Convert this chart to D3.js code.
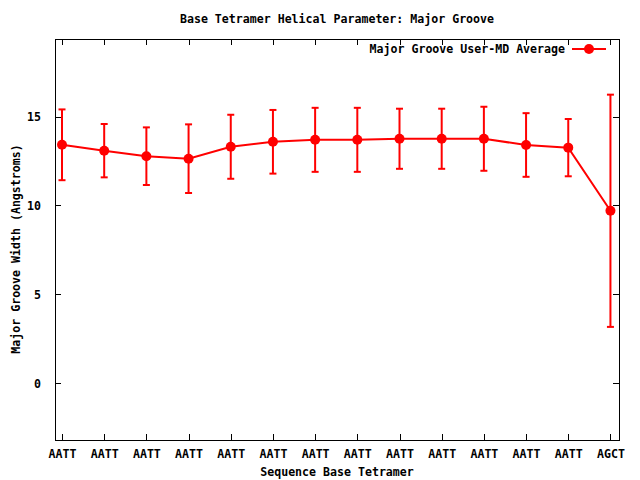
<!DOCTYPE html>
<html>
<head>
<meta charset="utf-8">
<script src="https://cdn.jsdelivr.net/npm/d3@7"></script>
<style>
body { margin: 0; background: #fff; }
svg { display: block; }
text { font-family: "DejaVu Sans Mono", monospace; font-weight: bold; font-size: 11.6px; fill: #000; }
</style>
</head>
<body>
<svg id="chart" width="640" height="480"></svg>
<script>
const categories = ["AATT","AATT","AATT","AATT","AATT","AATT","AATT","AATT","AATT","AATT","AATT","AATT","AATT","AGCT"];
const means = [13.41, 13.08, 12.77, 12.63, 13.30, 13.58, 13.69, 13.69, 13.75, 13.75, 13.75, 13.40, 13.25, 9.70];
const stdevs = [1.99, 1.50, 1.62, 1.93, 1.80, 1.79, 1.80, 1.80, 1.69, 1.69, 1.80, 1.79, 1.61, 6.53];
const yTicks = [0, 5, 10, 15];
const title = "Base Tetramer Helical Parameter: Major Groove";
const xTitle = "Sequence Base Tetramer";
const yTitle = "Major Groove Width (Angstroms)";
const seriesName = "Major Groove User-MD Average";

const svg = d3.select("#chart");
const L = 55, R = 619.3, T = 39, B = 440;
const red = "#ff0000";

const x = d3.scaleLinear().domain([-0.166, 13.21]).range([L, R]);
const y = d3.scaleLinear().domain([-3.19, 19.36]).range([B, T]);
const idx = categories.map((c, i) => i);

// axes with inward ticks
const tick = 6;
const axB = svg.append("g").attr("transform", `translate(0,${B})`)
  .call(d3.axisBottom(x).tickValues(idx).tickFormat(i => categories[i]).tickSizeInner(-tick).tickSizeOuter(0).tickPadding(12));
const axT = svg.append("g").attr("transform", `translate(0,${T})`)
  .call(d3.axisTop(x).tickValues(idx).tickFormat("").tickSizeInner(-tick).tickSizeOuter(0));
const axL = svg.append("g").attr("transform", `translate(${L},0)`)
  .call(d3.axisLeft(y).tickValues(yTicks).tickFormat(d3.format("d")).tickSizeInner(-tick).tickSizeOuter(0).tickPadding(14));
const axR = svg.append("g").attr("transform", `translate(${R},0)`)
  .call(d3.axisRight(y).tickValues(yTicks).tickFormat("").tickSizeInner(-tick).tickSizeOuter(0));
[axB, axT, axL, axR].forEach(a => {
  a.select(".domain").remove();
  a.selectAll("line").attr("stroke", "#000").attr("shape-rendering", "crispEdges");
  a.selectAll("text").attr("font-family", null).attr("font-size", null);
});
axB.selectAll("text").attr("dy", null).attr("y", 18);
axL.selectAll("text").attr("dy", "0.35em");

svg.append("rect").attr("x", L).attr("y", T).attr("width", R - L).attr("height", B - T)
  .attr("fill", "none").attr("stroke", "#000").attr("stroke-width", 1).attr("shape-rendering", "crispEdges");

// line
svg.append("path").datum(idx)
  .attr("d", d3.line().x(i => x(i)).y(i => y(means[i])))
  .attr("fill", "none").attr("stroke", red).attr("stroke-width", 2);

// error bars
const eb = svg.append("g").attr("stroke", red).attr("stroke-width", 2);
idx.forEach(i => {
  const top = y(means[i] + stdevs[i]), bot = y(means[i] - stdevs[i]), cx = x(i);
  eb.append("line").attr("x1", cx).attr("x2", cx).attr("y1", top).attr("y2", bot);
  eb.append("line").attr("x1", cx - 3.5).attr("x2", cx + 3.5).attr("y1", top).attr("y2", top);
  eb.append("line").attr("x1", cx - 3.5).attr("x2", cx + 3.5).attr("y1", bot).attr("y2", bot);
});

// points
svg.append("g").selectAll("circle").data(idx).join("circle")
  .attr("cx", i => x(i)).attr("cy", i => y(means[i])).attr("r", 5).attr("fill", red);

// titles
svg.append("text").attr("x", 337).attr("y", 23).attr("text-anchor", "middle").text(title);
svg.append("text").attr("x", 337).attr("y", 476).attr("text-anchor", "middle").text(xTitle);
svg.append("text").attr("transform", "translate(20,249) rotate(-90)").attr("text-anchor", "middle").text(yTitle);

// legend
svg.append("text").attr("x", 565).attr("y", 53).attr("text-anchor", "end").text(seriesName);
svg.append("line").attr("x1", 572).attr("x2", 606).attr("y1", 49).attr("y2", 49).attr("stroke", red).attr("stroke-width", 2);
svg.append("circle").attr("cx", 589).attr("cy", 49).attr("r", 5).attr("fill", red);
</script>
</body>
</html>
